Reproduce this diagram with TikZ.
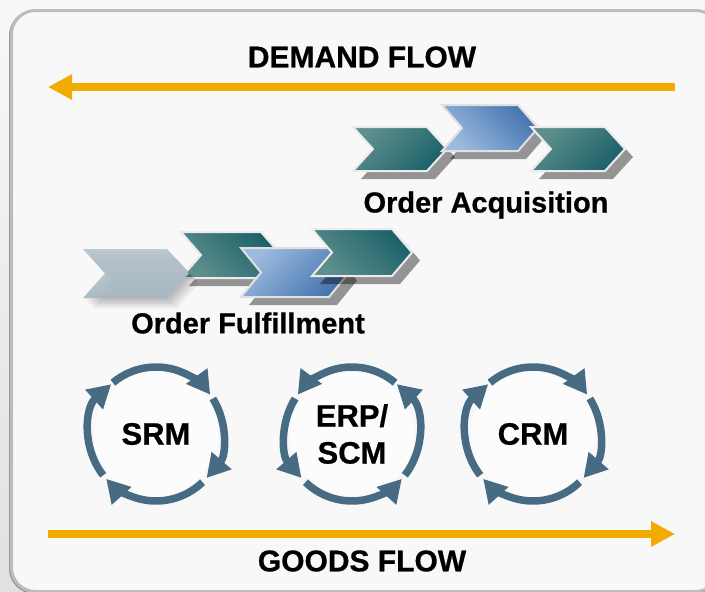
\documentclass[tikz,border=0pt]{standalone}
\usepackage{fontspec}
\setmainfont[BoldFeatures={FakeBold=0.7}]{Liberation Sans}
\usetikzlibrary{arrows.meta}
\definecolor{flowcolor}{HTML}{F2AB00}
\definecolor{cyclecolor}{HTML}{466B82}
\definecolor{paneledge}{HTML}{BDBDBD}
\definecolor{panelfill}{HTML}{F8F8F8}
\definecolor{teallight}{HTML}{5F8F8D}
\definecolor{tealdark}{HTML}{1B6169}
\definecolor{bluelight}{HTML}{9DBBE0}
\definecolor{bluedark}{HTML}{4574AE}
\tikzset{
    panel/.style = {draw = paneledge, line width = 3, fill = panelfill, rounded corners = 24},
    panelshadow/.style = {draw = black!40, line width = 3, rounded corners = 24},
    flow/.style = {draw = flowcolor, line width = 8, -{Triangle[length = 24, width = 24]}},
    cycle/.style = {draw = cyclecolor, line width = 7.5, -{Triangle[length = 23, width = 25]}},
    hub/.style = {circle, fill = white!60!panelfill, minimum size = 124},
    title/.style = {font = \fontsize{30}{30}\selectfont\bfseries},
    label/.style = {font = \fontsize{29}{29}\selectfont\bfseries},
    caption/.style = {font = \fontsize{31}{37}\selectfont\bfseries, align = center},
    chevronshadow/.style = {fill = black, fill opacity = 0.4},
    tealup/.style = {draw = white!92!black, line width = 2, top color = teallight, bottom color = tealdark, shading angle = 45},
    tealdown/.style = {draw = white!92!black, line width = 2, top color = tealdark, bottom color = teallight, shading angle = -45},
    blueup/.style = {draw = white!88!black, line width = 2, top color = bluedark, bottom color = bluelight, shading angle = -45},
    bluedown/.style = {draw = white!88!black, line width = 2, top color = bluelight, bottom color = bluedark, shading angle = 45},
    faded/.style = {top color = white!60!cyclecolor, bottom color = white!52!cyclecolor, fill opacity = 0.9}
}
% style, left, top, width, height
\newcommand{\chevron}[5]{
    \fill[chevronshadow, shift = {(8, 8)}] (#2, #3) -- ++(#4, 0) -- ++(20, #5/2) -- ++(-20, #5/2) -- ++(-#4, 0) -- ++(20, -#5/2) -- cycle;
    \path[#1] (#2, #3) -- ++(#4, 0) -- ++(20, #5/2) -- ++(-20, #5/2) -- ++(-#4, 0) -- ++(20, -#5/2) -- cycle;
}
% hub name, centre x, text
\newcommand{\hubcircle}[3]{
    \node[hub] (#1) at (#2, 434) {};
    \node[caption] (#1text) at (#1) {#3};
}

\begin{document}
\begin{tikzpicture}[x = 1pt, y = -1pt]
    \useasboundingbox (0, 0) rectangle (705, 592);
    \shade[top color = panelfill, bottom color = black!12] (0, 0) rectangle (705, 592);
    \node[panelshadow, minimum width = 708, minimum height = 581, inner sep = 0, anchor = north west] (frameshadow) at (9, 10) {};
    \node[panel, minimum width = 708, minimum height = 581, inner sep = 0, anchor = north west] (frame) at (10, 9) {};

    \coordinate (demandstart) at (675, 87);
    \coordinate (demandend) at (48, 87);
    \coordinate (goodsstart) at (48, 534);
    \coordinate (goodsend) at (675, 534);
    \draw[flow] (demandstart) -- (demandend);
    \draw[flow] (goodsstart) -- (goodsend);
    \node[title] (demand) at (362, 57) {DEMAND FLOW};
    \node[title] (goods) at (362, 561) {GOODS FLOW};

    \chevron{tealup}{353}{127}{74}{44}
    \chevron{blueup}{442}{105}{76}{46}
    \chevron{tealup}{531}{127}{74}{44}
    \node[label] (acquisition) at (486, 205) {Order Acquisition};

    \chevron{tealdown}{181}{232}{80}{46}
    \foreach \s in {2, 4, 6, 8, 10} {
        \fill[black, fill opacity = 0.05] (83 + \s, 249 + \s) -- ++(84, 0) -- ++(22, 24.5) -- ++(-22, 24.5) -- ++(-84, 0) -- ++(22, -24.5) -- cycle;
    }
    \path[faded] (83, 249) -- ++(84, 0) -- ++(22, 24.5) -- ++(-22, 24.5) -- ++(-84, 0) -- ++(22, -24.5) -- cycle;
    \chevron{bluedown}{241}{248}{88}{49}
    \chevron{tealdown}{312}{229}{80}{47}
    \node[label] (fulfillment) at (248, 323) {Order Fulfillment};

    \hubcircle{srm}{156}{SRM}
    \hubcircle{erp}{352}{ERP/\\SCM}
    \hubcircle{crm}{533}{CRM}

    \foreach \c in {srm, crm} {
        \draw[cycle] (\c) ++(-130:67) arc[start angle = -130, end angle = -36, radius = 67];
        \draw[cycle] (\c) ++(-32:67) arc[start angle = -32, end angle = 41, radius = 67];
        \draw[cycle] (\c) ++(46:67) arc[start angle = 46, end angle = 138, radius = 67];
        \draw[cycle] (\c) ++(142:67) arc[start angle = 142, end angle = 228, radius = 67];
    }
    \draw[cycle] (erp) ++(-50:67) arc[start angle = -50, end angle = -144, radius = 67];
    \draw[cycle] (erp) ++(-148:67) arc[start angle = -148, end angle = -221, radius = 67];
    \draw[cycle] (erp) ++(-226:67) arc[start angle = -226, end angle = -318, radius = 67];
    \draw[cycle] (erp) ++(-322:67) arc[start angle = -322, end angle = -408, radius = 67];
\end{tikzpicture}
\end{document}
